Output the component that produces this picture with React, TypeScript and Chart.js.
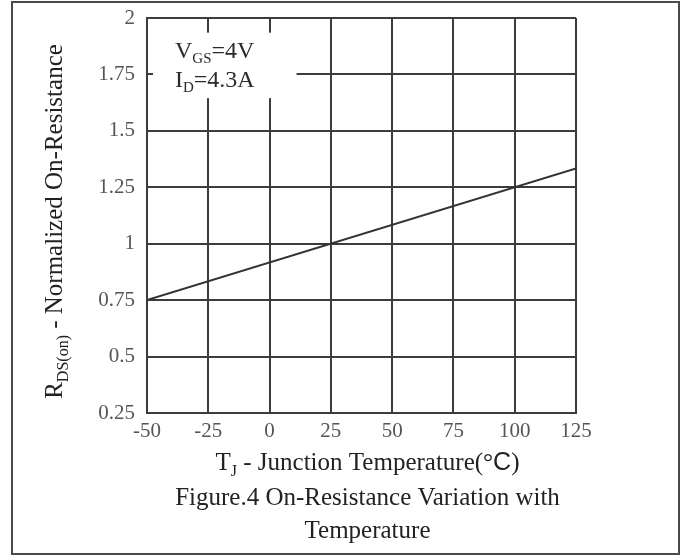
import React, { useEffect, useRef } from "react";
import { Chart, registerables } from "chart.js";

Chart.register(...registerables);

// ---- data ----
const tempValues = [-50, 125];
const rdsValues = [0.75, 1.333];
const xTickLabels = ["-50", "-25", "0", "25", "50", "75", "100", "125"];
const yTickLabels = ["0.25", "0.5", "0.75", "1", "1.25", "1.5", "1.75", "2"];

const SERIF = "'Liberation Serif', 'Times New Roman', serif";
const SANS = "'Liberation Sans', Arial, sans-serif";

type Run = { t: string; sub?: boolean; fam?: string };

function runFont(r: Run, size: number) {
  const s = r.sub ? Math.round(size * 0.62) : size;
  return `${s}px ${r.fam || SERIF}`;
}

function drawRuns(
  ctx: CanvasRenderingContext2D,
  runs: Run[],
  x: number,
  y: number,
  size: number,
  align: "left" | "center",
  color: string
) {
  let total = 0;
  for (const r of runs) {
    ctx.font = runFont(r, size);
    total += ctx.measureText(r.t).width;
  }
  let cx = align === "center" ? x - total / 2 : x;
  ctx.fillStyle = color;
  ctx.textAlign = "left";
  ctx.textBaseline = "alphabetic";
  for (const r of runs) {
    ctx.font = runFont(r, size);
    ctx.fillText(r.t, cx, r.sub ? y + size * 0.22 : y);
    cx += ctx.measureText(r.t).width;
  }
}

const decorPlugin = {
  id: "decor",
  beforeDatasetsDraw(chart: any) {
    const ctx: CanvasRenderingContext2D = chart.ctx;
    const xs = chart.scales.x;
    const ys = chart.scales.y;
    const a = chart.chartArea;
    // white annotation box interrupting the grid
    const left = a.left + 6;
    const right = xs.getPixelForValue(11);
    const top = ys.getPixelForValue(1.935);
    const bottom = ys.getPixelForValue(1.645);
    ctx.save();
    ctx.fillStyle = "#ffffff";
    ctx.fillRect(left, top, right - left, bottom - top);
    drawRuns(ctx, [{ t: "V" }, { t: "GS", sub: true }, { t: "=4V" }], a.left + 28, a.top + 40, 24, "left", "#2a2a2a");
    drawRuns(ctx, [{ t: "I" }, { t: "D", sub: true }, { t: "=4.3A" }], a.left + 28, a.top + 69, 24, "left", "#2a2a2a");
    ctx.restore();
  },
  afterDraw(chart: any) {
    const ctx: CanvasRenderingContext2D = chart.ctx;
    const a = chart.chartArea;
    const cx = (a.left + a.right) / 2 + 6;
    ctx.save();
    // outer frame
    ctx.strokeStyle = "#4a4a4a";
    ctx.lineWidth = 2;
    ctx.strokeRect(12, 2, 667, 552);
    // x axis title
    drawRuns(
      ctx,
      [
        { t: "T" },
        { t: "J", sub: true },
        { t: " - Junction Temperature(" },
        { t: "°" },
        { t: "C", fam: SANS },
        { t: ")" },
      ],
      cx,
      a.bottom + 57,
      25,
      "center",
      "#222"
    );
    drawRuns(ctx, [{ t: "Figure.4 On-Resistance Variation with" }], cx, a.bottom + 92, 25, "center", "#222");
    drawRuns(ctx, [{ t: "Temperature" }], cx, a.bottom + 125, 25, "center", "#222");
    // y axis title
    ctx.translate(62, (a.top + a.bottom) / 2 + 6);
    ctx.rotate(-Math.PI / 2);
    drawRuns(
      ctx,
      [{ t: "R" }, { t: "DS(on)", sub: true }, { t: " - Normalized On-Resistance" }],
      0,
      0,
      25,
      "center",
      "#222"
    );
    ctx.restore();
  },
};

export default function App() {
  const ref = useRef<HTMLCanvasElement | null>(null);
  useEffect(() => {
    document.body.style.margin = "0";
    const canvas = ref.current;
    if (!canvas) return;
    const gridColor = "#3c3c3c";
    const chart = new Chart(canvas, {
      type: "line",
      data: {
        datasets: [
          {
            data: tempValues.map((t, i) => ({ x: t, y: rdsValues[i] })),
            borderColor: "#333333",
            borderWidth: 2,
            pointRadius: 0,
            tension: 0,
            fill: false,
          },
        ],
      },
      options: {
        animation: false,
        responsive: true,
        maintainAspectRatio: false,
        layout: { padding: { top: 18, right: 112, left: 0, bottom: 0 } },
        plugins: {
          legend: { display: false },
          tooltip: { enabled: false },
          title: { display: false },
        },
        scales: {
          x: {
            type: "linear",
            min: -50,
            max: 125,
            afterFit: (s: any) => {
              s.height = 146;
              s.paddingLeft = 0;
              s.paddingRight = 0;
            },
            ticks: {
              stepSize: 25,
              padding: 6,
              color: "#555",
              font: { family: SERIF, size: 21 },
              callback: (_v: any, i: number) => xTickLabels[i],
              maxRotation: 0,
            },
            grid: { color: gridColor, lineWidth: 2, drawTicks: false },
            border: { color: gridColor, width: 2 },
          },
          y: {
            type: "linear",
            min: 0.25,
            max: 2,
            afterFit: (s: any) => {
              s.width = 147;
              s.paddingTop = 0;
              s.paddingBottom = 0;
            },
            ticks: {
              stepSize: 0.25,
              padding: 12,
              color: "#555",
              font: { family: SERIF, size: 21 },
              callback: (_v: any, i: number) => yTickLabels[i],
            },
            grid: { color: gridColor, lineWidth: 2, drawTicks: false },
            border: { color: gridColor, width: 2 },
          },
        },
      } as any,
      plugins: [decorPlugin],
    });
    return () => chart.destroy();
  }, []);
  return (
    <div style={{ position: "relative", width: 688, height: 559 }}>
      <canvas ref={ref} />
    </div>
  );
}
